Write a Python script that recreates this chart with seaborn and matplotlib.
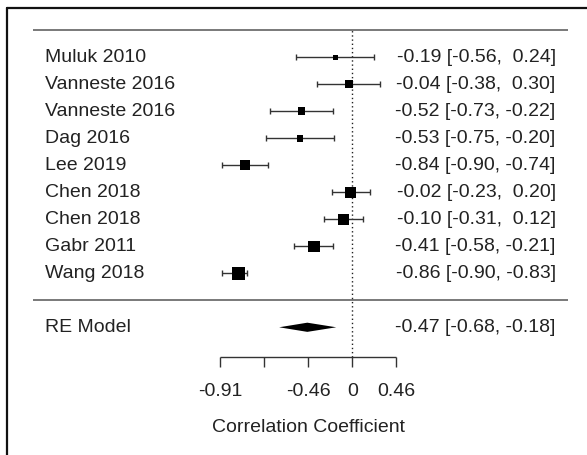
import numpy as np
import pandas as pd
import seaborn as sns
import matplotlib.pyplot as plt
from matplotlib.lines import Line2D

# study level correlations with 95% CI
studies = ["Muluk 2010", "Vanneste 2016", "Vanneste 2016", "Dag 2016", "Lee 2019",
           "Chen 2018", "Chen 2018", "Gabr 2011", "Wang 2018"]
r = [-0.19, -0.04, -0.52, -0.53, -0.84, -0.02, -0.10, -0.41, -0.86]
ci_lo = [-0.56, -0.38, -0.73, -0.75, -0.90, -0.23, -0.31, -0.58, -0.90]
ci_hi = [0.24, 0.30, -0.22, -0.20, -0.74, 0.20, 0.12, -0.21, -0.83]
weights = [9.0, 10.1, 10.1, 9.7, 11.05, 11.55, 11.55, 11.55, 12.1]

# pooled random effects estimate
re_label = "RE Model"
re_est, re_lo, re_hi = -0.47, -0.68, -0.18

# x axis is on the Fisher z scale, labels back-transformed
tick_z = [-1.5, -1.0, -0.5, 0.0, 0.5]
tick_labels = ["-0.91", "", "-0.46", "0", "0.46"]
xlabel = "Correlation Coefficient"

sns.set_style("white")
plt.rcParams['font.family'] = ['Liberation Sans', 'DejaVu Sans']
FS = 14
TXT = '#222222'

df = pd.DataFrame({
    "study": studies,
    "z": np.arctanh(r),
    "lo": np.arctanh(ci_lo),
    "hi": np.arctanh(ci_hi),
    "row": np.arange(len(studies), 0, -1),
    "w": weights,
})
w = df["w"]
side_px = 4.7 + (w - w.min()) / (w.max() - w.min()) * 8.0
df["s"] = (side_px * 72 / 100) ** 2

fig = plt.figure(figsize=(5.87, 4.55), dpi=100)
ax = fig.add_axes([0, 0, 1, 1])
ax.set_xlim(-3.994, 2.661)
ax.set_ylim(-5.73, 11.12)
ax.axis('off')

k = len(studies)
# horizontal rules
ax.hlines([k + 1, 0], -3.62, 2.446, color='#555555', lw=1.1)
# reference line at zero
ax.vlines(0, -2.09, k + 1, color='#222222', lw=1, linestyles=(0, (1, 2)))

# confidence intervals
ax.errorbar(df["z"], df["row"], xerr=[df["z"] - df["lo"], df["hi"] - df["z"]],
            fmt='none', ecolor='#333333', elinewidth=1, capsize=1.9, capthick=1)
sns.scatterplot(data=df, x="z", y="row", marker='s', s=df["s"].values,
                color='black', edgecolor='none', linewidth=0, legend=False, ax=ax, zorder=3)

# pooled diamond
zr, zl, zh = np.arctanh([re_est, re_lo, re_hi])
h = 0.17
ax.fill([zl, zr, zh, zr], [-1, -1 + h, -1, -1 - h], color='black', lw=0)

# labels and annotations
for _, row in df.iterrows():
    ax.text(-3.484, row["row"], row["study"], ha='left', va='center', fontsize=FS, color=TXT)
for i in range(k):
    ann = f"{r[i]:.2f} [{ci_lo[i]:.2f}, {ci_hi[i]:5.2f}]"
    ax.text(2.306, k - i, ann, ha='right', va='center', fontsize=FS, color=TXT)
ax.text(-3.484, -1, re_label, ha='left', va='center', fontsize=FS, color=TXT)
ax.text(2.306, -1, f"{re_est:.2f} [{re_lo:.2f}, {re_hi:5.2f}]",
        ha='right', va='center', fontsize=FS, color=TXT)

# bottom axis drawn R style
axis_y = -2.09
ax.hlines(axis_y, tick_z[0], tick_z[-1], color='#333333', lw=1)
ax.vlines(tick_z, axis_y - 0.38, axis_y, color='#333333', lw=1)
for tz, tl in zip(tick_z, tick_labels):
    ax.text(tz, -3.385, tl, ha='center', va='center', fontsize=FS, color=TXT)
ax.text(np.mean([tick_z[0], tick_z[-1]]), -4.70, xlabel, ha='center', va='center',
        fontsize=FS, color=TXT)

# partial frame (top and left)
fig.add_artist(Line2D([7 / 587, 1], [1 - 8 / 455] * 2, transform=fig.transFigure,
                      color='#111111', lw=1.6))
fig.add_artist(Line2D([7 / 587] * 2, [0, 1 - 8 / 455], transform=fig.transFigure,
                      color='#111111', lw=1.6))

fig.savefig("out.png", dpi=100, facecolor='white')
